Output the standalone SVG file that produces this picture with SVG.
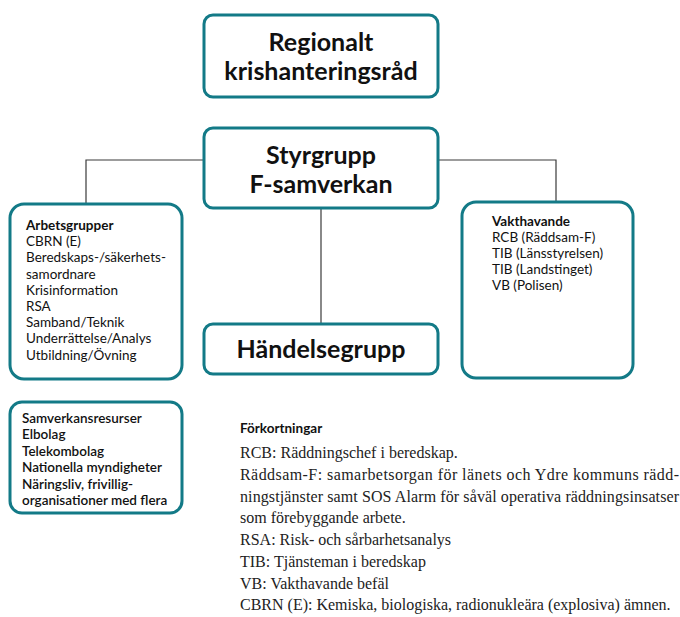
<svg xmlns="http://www.w3.org/2000/svg" width="680" height="617" viewBox="0 0 680 617">
<style>
.box{fill:#fff;stroke:#137a87;stroke-width:3}
.conn{fill:none;stroke:#3a3a3a;stroke-width:1.2}
.h{font-family:Lato,"Liberation Sans",sans-serif;font-weight:bold;font-size:25px;fill:#111;text-anchor:middle}
.t{font-family:Lato,"Liberation Sans",sans-serif;font-size:13.5px;fill:#111}
.b{font-weight:bold}
.s{font-family:"Liberation Serif","Times New Roman",serif;font-size:16px;fill:#222}
</style>
<rect width="680" height="617" fill="#fff"/>
<g id="connectors">
<path class="conn" d="M204,160 H86 V204"/>
<path class="conn" d="M438,160 H556 V202"/>
<path class="conn" d="M321,208 V324"/>
</g>
<g id="regionalt">
<rect class="box" x="204" y="15" width="234" height="82" rx="9"/>
<text class="h" x="321" y="51">Regionalt</text>
<text class="h" x="321" y="80">krishanteringsråd</text>
</g>
<g id="styrgrupp">
<rect class="box" x="204" y="128" width="234" height="80" rx="9"/>
<text class="h" x="321" y="164">Styrgrupp</text>
<text class="h" x="321" y="193">F-samverkan</text>
</g>
<g id="handelsegrupp">
<rect class="box" x="204" y="324" width="234" height="50" rx="9"/>
<text class="h" x="321" y="358">Händelsegrupp</text>
</g>
<g id="arbetsgrupper">
<rect class="box" x="10" y="204" width="172" height="175" rx="14"/>
<text class="t" x="26" y="230"><tspan class="b">Arbetsgrupper</tspan><tspan x="26" dy="16.2">CBRN (E)</tspan><tspan x="26" dy="16.2">Beredskaps-/säkerhets-</tspan><tspan x="26" dy="16.2">samordnare</tspan><tspan x="26" dy="16.2">Krisinformation</tspan><tspan x="26" dy="16.2">RSA</tspan><tspan x="26" dy="16.2">Samband/Teknik</tspan><tspan x="26" dy="16.2">Underrättelse/Analys</tspan><tspan x="26" dy="16.2">Utbildning/Övning</tspan></text>
</g>
<g id="vakthavande">
<rect class="box" x="462" y="202" width="171" height="176" rx="14"/>
<text class="t" x="492" y="226"><tspan class="b">Vakthavande</tspan><tspan x="492" dy="16">RCB (Räddsam-F)</tspan><tspan x="492" dy="16">TIB (Länsstyrelsen)</tspan><tspan x="492" dy="16">TIB (Landstinget)</tspan><tspan x="492" dy="16">VB (Polisen)</tspan></text>
</g>
<g id="samverkansresurser">
<rect class="box" x="10" y="402" width="172" height="111" rx="12"/>
<text class="t" x="22" y="423" font-weight="600"><tspan>Samverkansresurser</tspan><tspan x="22" dy="16.4">Elbolag</tspan><tspan x="22" dy="16.4">Telekombolag</tspan><tspan x="22" dy="16.4">Nationella myndigheter</tspan><tspan x="22" dy="16.4">Näringsliv, frivillig-</tspan><tspan x="22" dy="16.4">organisationer med flera</tspan></text>
</g>
<g id="forkortningar">
<text class="t b" x="240" y="433" font-size="14.5">Förkortningar</text>
<text class="s" x="240" y="458">RCB: Räddningschef i beredskap.</text>
<text class="s" x="240" y="480" textLength="439" lengthAdjust="spacing">Räddsam-F: samarbetsorgan för länets och Ydre kommuns rädd-</text>
<text class="s" x="240" y="501.5" textLength="439" lengthAdjust="spacing">ningstjänster samt SOS Alarm för såväl operativa räddningsinsatser</text>
<text class="s" x="240" y="523">som förebyggande arbete.</text>
<text class="s" x="240" y="545">RSA: Risk- och sårbarhetsanalys</text>
<text class="s" x="240" y="567">TIB: Tjänsteman i beredskap</text>
<text class="s" x="240" y="588.5">VB: Vakthavande befäl</text>
<text class="s" x="240" y="610">CBRN (E): Kemiska, biologiska, radionukleära (explosiva) ämnen.</text>
</g>
</svg>
